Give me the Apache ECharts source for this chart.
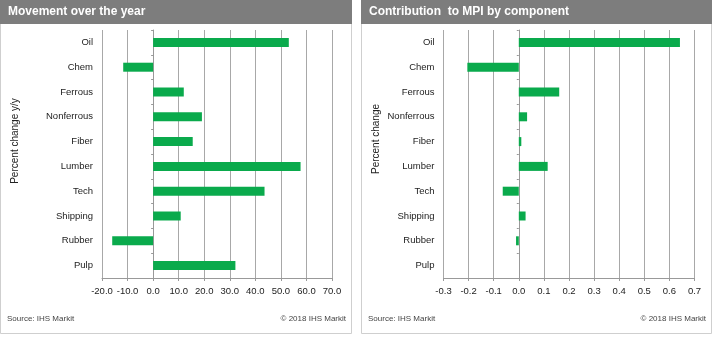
<!DOCTYPE html>
<html>
<head>
<meta charset="utf-8">
<script src="https://cdn.jsdelivr.net/npm/echarts@6/dist/echarts.min.js"></script>
<style>
  html, body { margin: 0; padding: 0; background: #fff; }
  #chart { width: 720px; height: 341px; }
</style>
</head>
<body>
<div id="chart"></div>
<script>
// Commodity components (top to bottom)
const categories = ['Oil', 'Chem', 'Ferrous', 'Nonferrous', 'Fiber', 'Lumber', 'Tech', 'Shipping', 'Rubber', 'Pulp'];

// Percent change over the year, y/y
const yearMovement = [53.1, -11.7, 12.0, 19.1, 15.5, 57.7, 43.6, 10.8, -16.0, 32.2];

// Contribution to the MPI, percentage points
const contribution = [0.642, -0.205, 0.161, 0.033, 0.010, 0.115, -0.064, 0.027, -0.011, 0.0];

// Axis ranges and tick steps
const leftAxis = { min: -20, max: 70, interval: 10, decimals: 1 };
const rightAxis = { min: -0.3, max: 0.7, interval: 0.1, decimals: 1 };

const titles = ['Movement over the year', 'Contribution  to MPI by component'];
const axisNames = ['Percent change y/y', 'Percent change'];
const sourceText = 'Source: IHS Markit';
const copyText = '\u00a9 2018 IHS Markit';

const FONT = '"Liberation Sans", Arial, sans-serif';
const GREEN = '#0aaa4c';
const GRID_GREY = '#a8a8a8';
const TEXT = '#222';

const chart = echarts.init(document.getElementById('chart'), null, { renderer: 'canvas' });

const grids = [
  { left: 102, right: 388, top: 30, bottom: 63 },
  { left: 443.5, right: 25.5, top: 30, bottom: 63 }
];

function valueAxis(gridIndex, ax) {
  return {
    type: 'value', gridIndex,
    min: ax.min, max: ax.max, interval: ax.interval,
    axisLine: { show: true, onZero: false, lineStyle: { color: '#999', width: 1 } },
    axisTick: { show: true, length: 3, lineStyle: { color: '#999' } },
    splitLine: { show: true, lineStyle: { color: GRID_GREY, width: 1 } },
    axisLabel: {
      fontFamily: FONT, fontSize: 9.5, color: TEXT, margin: 8,
      formatter: v => (Math.round(v * 1000) / 1000).toFixed(ax.decimals)
    }
  };
}

function labelAxis(gridIndex) {
  return {
    type: 'category', gridIndex, data: categories, inverse: true,
    axisLine: { show: false, onZero: false },
    axisTick: { show: false },
    splitLine: { show: false },
    axisLabel: { fontFamily: FONT, fontSize: 9.5, color: TEXT, margin: 9 }
  };
}

function zeroAxis(gridIndex) {
  return {
    type: 'category', gridIndex, data: categories, inverse: true,
    position: 'left',
    axisLine: { show: true, onZero: true, lineStyle: { color: '#999', width: 1 } },
    axisTick: { show: true, length: 2, lineStyle: { color: '#999' } },
    axisLabel: { show: false },
    splitLine: { show: false }
  };
}

function panel(x, w, title, axisName, nameY) {
  return [
    { type: 'rect', shape: { x: x + 0.5, y: 0.5, width: w, height: 333 },
      style: { fill: '#fff', stroke: '#cfcfcf', lineWidth: 1 }, z: -10 },
    { type: 'rect', shape: { x: x, y: 0, width: w + 1, height: 24 },
      style: { fill: '#7d7d7d' }, z: -5 },
    { type: 'text', x: x + 8, y: 12,
      style: { text: title, fill: '#fff', font: 'bold 12px ' + FONT, textVerticalAlign: 'middle' } },
    { type: 'text', x: x + 15, y: nameY, rotation: Math.PI / 2,
      style: { text: axisName, fill: TEXT, font: '10px ' + FONT,
               textAlign: 'center', textVerticalAlign: 'middle' } },
    { type: 'text', x: x + 7, y: 319,
      style: { text: sourceText, fill: '#444', font: '8px ' + FONT, textVerticalAlign: 'middle' } },
    { type: 'text', x: x + w - 5, y: 319,
      style: { text: copyText, fill: '#444', font: '8px ' + FONT,
               textAlign: 'right', textVerticalAlign: 'middle' } }
  ];
}

const option = {
  animation: false,
  backgroundColor: '#fff',
  grid: grids,
  xAxis: [valueAxis(0, leftAxis), valueAxis(1, rightAxis)],
  yAxis: [labelAxis(0), zeroAxis(0), labelAxis(1), zeroAxis(1)],
  series: [
    { type: 'bar', xAxisIndex: 0, yAxisIndex: 0, data: yearMovement,
      barWidth: 9, itemStyle: { color: GREEN } },
    { type: 'bar', xAxisIndex: 1, yAxisIndex: 2, data: contribution,
      barWidth: 9, itemStyle: { color: GREEN } }
  ],
  graphic: [
    ...panel(0, 351, titles[0], axisNames[0], 141),
    ...panel(361, 350, titles[1], axisNames[1], 139)
  ]
};

chart.setOption(option);
</script>
</body>
</html>
